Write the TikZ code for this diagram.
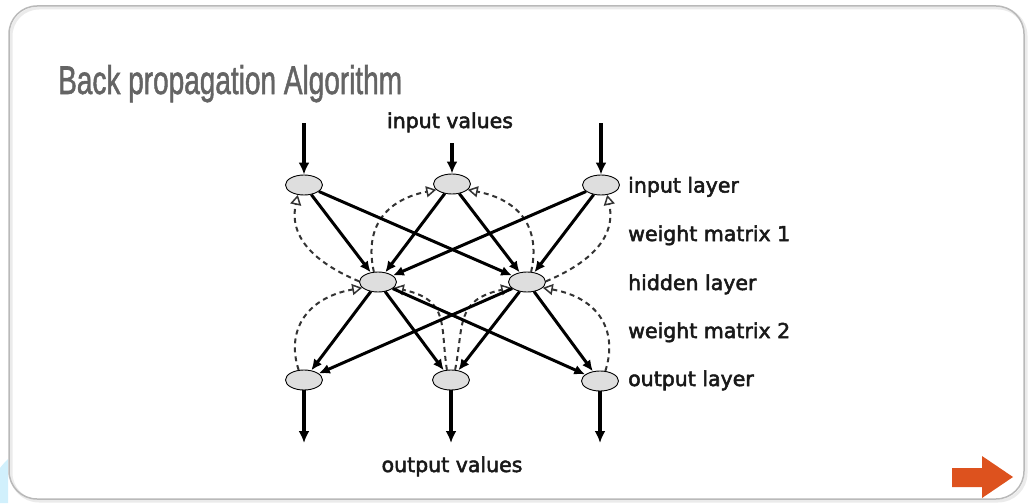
\documentclass[tikz,border=0pt]{standalone}
\usepackage{fontspec}
\setmainfont{DejaVu Sans}
\newfontfamily\titlefont[FakeBold=1.6]{Liberation Sans}
\newfontfamily\lblfont[FakeBold=2.5]{DejaVu Sans}
\usetikzlibrary{arrows.meta,shapes.geometric}
\definecolor{arroworange}{RGB}{221,82,30}
\definecolor{titlegray}{RGB}{100,100,100}
\definecolor{framegray}{RGB}{185,185,185}
\definecolor{nodefill}{RGB}{222,222,222}
\begin{document}
\begin{tikzpicture}[x=1pt,y=-1pt,
  neuron/.style={ellipse, draw=black, line width=0.9pt, fill=nodefill, minimum width=37pt, minimum height=20pt, inner sep=0pt},
  fwd/.style={line width=3pt, -{Latex[length=11pt,width=10pt]}},
  io/.style={line width=3.2pt, -{Latex[length=12pt,width=11pt]}},
  back/.style={line width=2pt, dash pattern=on 5pt off 4pt, draw=black!80, -{Triangle[open,length=10pt,width=11pt,line width=1.5pt,fill=white]}},
  lbl/.style={font=\lblfont\fontsize{20.5}{24}\selectfont, anchor=base west, inner sep=0pt, text=black!90},
  vlbl/.style={font=\lblfont\fontsize{20.5}{24}\selectfont, anchor=base, inner sep=0pt, text=black!90},
]
\useasboundingbox (0,0) rectangle (1030,503);
% frame
\fill[cyan!18] (0,503) -- (0,468) .. controls (3,464) and (6,461) .. (8,459) -- (8,503) -- cycle;
\draw[black!8, line width=3pt, rounded corners=28pt] (11,8) rectangle (1026,501);
\draw[framegray, line width=1.5pt, rounded corners=28pt] (9,6) rectangle (1024,499);
% title
\node[anchor=base west, inner sep=0pt, text=titlegray] (title) at (58,94)
  {\scalebox{0.70}[1]{\titlefont\fontsize{40}{44}\selectfont Back propagation Algorithm}};
% neurons
\node[neuron] (i1) at (304,185) {};
\node[neuron] (i2) at (452,184) {};
\node[neuron] (i3) at (601,185) {};
\node[neuron] (h1) at (378,282) {};
\node[neuron] (h2) at (527,282) {};
\node[neuron] (o1) at (304,380) {};
\node[neuron] (o2) at (451,380) {};
\node[neuron] (o3) at (600,381) {};
% free ends
\coordinate (ti1) at (304,123);
\coordinate (ti2) at (452,143);
\coordinate (ti3) at (601,123);
\coordinate (to1) at (304,443);
\coordinate (to2) at (451,443);
\coordinate (to3) at (600,443);
% backward (dashed) connections
\draw[back] (h1.178) .. controls (320,265) and (288,240) .. (i1.238);
\draw[back] (h1.112) .. controls (364,228) and (385,200) .. (i2.200);
\draw[back] (h2.68) .. controls (541,228) and (520,200) .. (i2.340);
\draw[back] (h2.2) .. controls (585,265) and (617,240) .. (i3.302);
\draw[back] (o1.118) .. controls (286,332) and (305,298) .. (h1.200);
\draw[back] (o2.112) .. controls (440,325) and (450,300) .. (h1.340);
\draw[back] (o2.68) .. controls (464,325) and (455,300) .. (h2.200);
\draw[back] (o3.62) .. controls (618,332) and (600,298) .. (h2.340);
% forward connections
\foreach \a in {i1,i2,i3}{\foreach \b in {h1,h2}{\draw[fwd] (\a) -- (\b);}}
\foreach \a in {h1,h2}{\foreach \b in {o1,o2,o3}{\draw[fwd] (\a) -- (\b);}}
% input / output arrows
\draw[io] (ti1) -- (i1);
\draw[io] (ti2) -- (i2);
\draw[io] (ti3) -- (i3);
\draw[io] (o1) -- (to1);
\draw[io] (o2) -- (to2);
\draw[io] (o3) -- (to3);
% labels
\node[vlbl] (inv) at (450,128) {input values};
\node[vlbl] (outv) at (452,472) {output values};
\node[lbl] (lin) at (628,192.5) {input layer};
\node[lbl] (lw1) at (628,241) {weight matrix 1};
\node[lbl] (lhid) at (628,290) {hidden layer};
\node[lbl] (lw2) at (628,338) {weight matrix 2};
\node[lbl] (lout) at (628,386) {output layer};
% next arrow
\fill[arroworange] (952,468) -- (982,468) -- (982,456) -- (1013,477) -- (982,498) -- (982,487) -- (952,487) -- cycle;
\end{tikzpicture}
\end{document}
